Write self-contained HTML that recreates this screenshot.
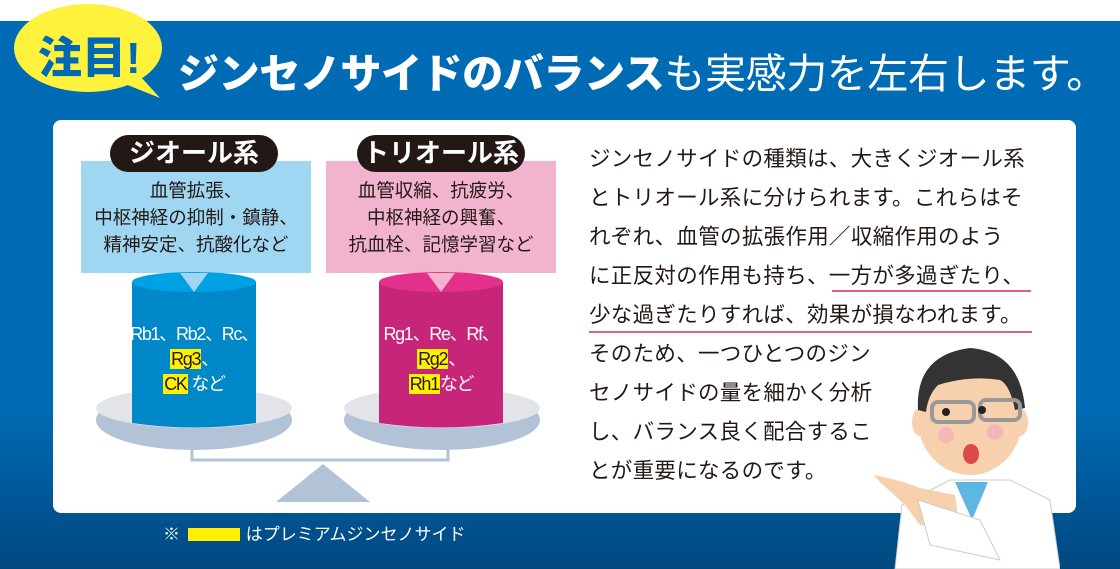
<!DOCTYPE html>
<html><head><meta charset="utf-8"><style>
*{margin:0;padding:0}
body{width:1120px;height:569px;overflow:hidden;position:relative;background:#fff;font-family:"Liberation Sans","Noto Sans CJK JP",sans-serif}
.bg{position:absolute;left:0;top:21px;width:1120px;height:548px;background:linear-gradient(#006bb5 0%,#006bb5 70%,#004880 100%)}
.panel{position:absolute;left:53px;top:120px;width:1023px;height:393px;background:#fff;border-radius:8px}
.ab{position:absolute;white-space:nowrap}
.title{left:178px;top:46px;font-size:41px;color:#fff;letter-spacing:-0.4px;line-height:56px}
.title b{font-weight:900}
.box{position:absolute;top:161px;width:230px;height:112px;text-align:center;font-size:18.5px;color:#231815;line-height:27px;padding-top:16px;box-sizing:border-box}
.pill{position:absolute;top:135px;height:37px;border-radius:19px;background:#231815;color:#fff;font-weight:bold;font-size:26px;line-height:37px;text-align:center}
.body{left:589px;font-size:21.5px;color:#231815;line-height:39px;top:140px;letter-spacing:0.3px}
.cyl{position:absolute;color:#fff;font-size:18px;text-align:center;line-height:25px;letter-spacing:-1.3px}
.hl{background:#fff100;color:#231815;padding:0 1px}
</style></head><body>
<div class="bg"></div>
<svg class="ab" style="left:0;top:0" width="200" height="110">
<ellipse cx="88" cy="48" rx="74" ry="44" fill="#fff23c"/>
<path d="M120 82 L160 98 L140 76 Z" fill="#fff23c"/>
<text x="38" y="73" font-size="44" font-weight="900" fill="#0068b5" font-family="Liberation Sans,Noto Sans CJK JP,sans-serif">注目!</text>
</svg>
<div class="ab title"><b>ジンセノサイドのバランス</b>も実感力を左右します。</div>
<div class="panel"></div>
<div class="box" style="left:81px;background:#9fd7f3">血管拡張、<br>中枢神経の抑制・鎮静、<br>精神安定、抗酸化など</div>
<div class="box" style="left:326px;background:#f2b3cf">血管収縮、抗疲労、<br>中枢神経の興奮、<br>抗血栓、記憶学習など</div>
<div class="pill" style="left:110px;width:168px">ジオール系</div>
<div class="pill" style="left:357px;width:168px">トリオール系</div>
<svg class="ab" style="left:0;top:260px" width="580" height="250">
<ellipse cx="194" cy="160" rx="98" ry="30" fill="#b3c3d7"/>
<ellipse cx="194" cy="148" rx="98" ry="20" fill="#e3e4ea"/>
<ellipse cx="442" cy="160" rx="98" ry="30" fill="#b3c3d7"/>
<ellipse cx="442" cy="148" rx="98" ry="20" fill="#e3e4ea"/>
<path d="M132 22 L132 163 Q194 172 256 163 L256 22 Z" fill="#0088c9"/>
<ellipse cx="194" cy="22" rx="62" ry="10" fill="#00a0e4"/>
<path d="M379 22 L379 163 Q441 172 503 163 L503 22 Z" fill="#c6257a"/>
<ellipse cx="441" cy="22" rx="62" ry="10" fill="#e3318b"/>
<path d="M180 13 L194 32 L208 13 Z" fill="#9fd7f3"/>
<path d="M427 13 L441 32 L455 13 Z" fill="#f2b3cf"/>
<path d="M192 180 L192 200 L448 200 L448 180" fill="none" stroke="#b3c3d7" stroke-width="3"/>
<path d="M276 242 L323 204 L370 242 Z" fill="#b3c3d7"/>
</svg>
<div class="cyl" style="left:120px;top:322px;width:148px">Rb1、Rb2、Rc、<br><span class="hl">Rg3</span>、<br><span class="hl">CK</span> など</div>
<div class="cyl" style="left:367px;top:322px;width:148px">Rg1、Re、Rf、<br><span class="hl">Rg2</span>、<br><span class="hl">Rh1</span>など</div>
<div class="ab" style="left:163px;top:524px;color:#fff;font-size:17px;line-height:22px">※ <span style="display:inline-block;width:52px;height:13px;background:#fff100;vertical-align:-1px;margin:0 6px 0 3px"></span>はプレミアムジンセノサイド</div>
<div class="ab body">ジンセノサイドの種類は、大きくジオール系<br>とトリオール系に分けられます。これらはそ<br>れぞれ、血管の拡張作用／収縮作用のよう<br>に正反対の作用も持ち、一方が多過ぎたり、<br>少な過ぎたりすれば、効果が損なわれます。<br>そのため、一つひとつのジン<br>セノサイドの量を細かく分析<br>し、バランス良く配合するこ<br>とが重要になるのです。</div>
<div class="ab" style="left:832px;top:290px;width:199px;height:1.5px;background:#e0607e"></div>
<div class="ab" style="left:589px;top:331px;width:443px;height:1.5px;background:#e0607e"></div>
<svg class="ab" style="left:860px;top:330px" width="200" height="239">
<path d="M35 239 L42 175 L90 150 L150 150 L190 170 L200 239 Z" fill="#fff" stroke="#ccc"/>
<path d="M95 152 L112 190 L128 152 Z" fill="#5eb7e3"/>
<path d="M14 145 Q40 150 60 158 L95 165 L100 200 L60 195 L45 175 L18 150 Z" fill="#f7d0ad"/>
<path d="M58 170 L120 190 L140 230 L70 215 Z" fill="#fff" stroke="#ccc"/>
<ellipse cx="110" cy="90" rx="52" ry="55" fill="#f7d0ad"/>
<ellipse cx="60" cy="92" rx="8" ry="14" fill="#f7d0ad"/>
<ellipse cx="160" cy="92" rx="8" ry="14" fill="#f7d0ad"/>
<path d="M58 80 Q55 25 110 18 Q160 22 165 78 L155 80 Q150 55 140 50 Q110 45 78 55 Q68 65 66 82 Z" fill="#333"/>
<rect x="72" y="72" width="42" height="20" rx="6" fill="none" stroke="#999" stroke-width="4"/>
<rect x="120" y="70" width="40" height="20" rx="6" fill="none" stroke="#999" stroke-width="4"/>
<circle cx="86" cy="82" r="4" fill="#222"/><circle cx="122" cy="80" r="4" fill="#222"/>
<ellipse cx="111" cy="124" rx="8" ry="10" fill="#d94a4a"/>
<circle cx="86" cy="105" r="8" fill="#f0a6c0" opacity="0.6"/><circle cx="135" cy="102" r="8" fill="#f0a6c0" opacity="0.6"/>
</svg>
</body></html>
